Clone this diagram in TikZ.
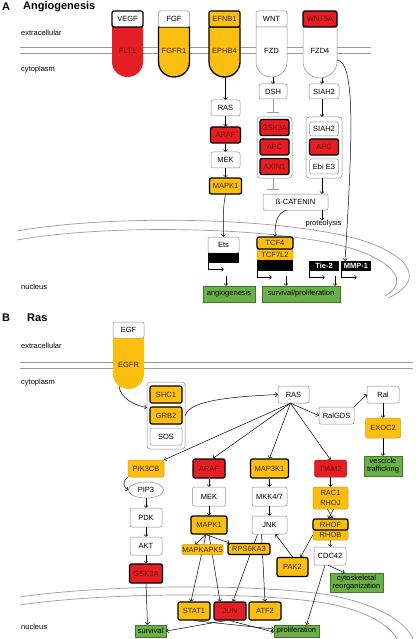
\documentclass[tikz,border=0pt]{standalone}
\usepackage{fontspec}
\setmainfont{Liberation Sans}
\usetikzlibrary{arrows.meta,shapes.geometric}
\definecolor{cred}{HTML}{E31E24}
\definecolor{credd}{HTML}{B0141A}
\definecolor{credt}{HTML}{6E0A0A}
\definecolor{cyel}{HTML}{FDBE12}
\definecolor{cyeld}{HTML}{C99A10}
\definecolor{cyelt}{HTML}{3D2C00}
\definecolor{cgrn}{HTML}{6AAF48}
\definecolor{cgrnd}{HTML}{3C7A26}
\definecolor{cmem}{HTML}{9B9B9B}
\definecolor{cbrd}{HTML}{8C8C8C}

\tikzset{
  gene/.style={rounded corners=2pt, inner sep=0.5pt, minimum width=30pt, minimum height=16pt,
    font=\fontsize{7.5}{8.5}\selectfont, align=center},
  wbox/.style={gene, draw=cbrd, fill=white, line width=0.5pt},
  ybox/.style={gene, draw=cyeld, fill=cyel, text=cyelt, line width=0.5pt},
  rbox/.style={gene, draw=credd, fill=cred, text=credt, line width=0.5pt},
  strong/.style={draw=black, line width=1.3pt},
  gbox/.style={gene, sharp corners, draw=cgrnd, fill=cgrn, text=black, line width=0.6pt,
    font=\fontsize{7.5}{8}\selectfont},
  kbox/.style={gene, sharp corners, fill=black, text=white, font=\fontsize{7.5}{8.5}\selectfont\bfseries},
  grp/.style={rounded corners=3pt, draw=cbrd, fill=white, line width=0.5pt, inner sep=0pt},
  lbl/.style={font=\fontsize{7.5}{8.5}\selectfont, anchor=west, inner sep=0pt},
  ttl/.style={font=\fontsize{11}{13}\selectfont\bfseries, anchor=west, inner sep=0pt},
  mem/.style={draw=cmem, line width=0.7pt},
  link/.style={-{To[length=2.5pt,width=4.5pt]}, line width=0.5pt},
  inhib/.style={-{Bar[width=12pt]}, draw=cmem, line width=0.8pt}
}

\begin{document}
\begin{tikzpicture}[x=1pt,y=-1pt]
\useasboundingbox (0,0) rectangle (415,639);

% A: Angiogenesis
\node[ttl] (tA) at (2,7) {A};
\node[ttl] (tAng) at (23,7) {Angiogenesis};
\node[lbl] (extA) at (21,33) {extracellular};
\node[lbl] (cytA) at (21,70) {cytoplasm};
\node[lbl] (nucA) at (21,287) {nucleus};
\draw[mem] (20,47.5) -- (371,47.5) (20,53) -- (371,53);
\draw[mem] (17,231) .. controls (120,213) and (300,218) .. (370,243)
  .. controls (420,262) and (418,285) .. (388,298);
\draw[mem] (17,240) .. controls (120,222) and (300,228) .. (362,252)
  .. controls (402,268) and (404,285) .. (385,296);

\fill[cred] (112,27) -- (112,62) .. controls (112,70.5) and (119,77) .. (127.5,77)
  .. controls (136,77) and (143,70.5) .. (143,62) -- (143,27) -- cycle;
\filldraw[fill=cyel, draw=black, line width=1.3pt] (158.5,27) -- (158.5,62) .. controls (158.5,70.5) and (165.5,77) .. (174,77)
  .. controls (182.5,77) and (189.5,70.5) .. (189.5,62) -- (189.5,27) -- cycle;
\filldraw[fill=cyel, draw=black, line width=1.3pt] (209,27) -- (209,62) .. controls (209,70.5) and (216,77) .. (224.5,77)
  .. controls (233,77) and (240,70.5) .. (240,62) -- (240,27) -- cycle;
\filldraw[fill=white, draw=cbrd, line width=0.5pt] (256,27) -- (256,62) .. controls (256,70.5) and (263,77) .. (271.5,77)
  .. controls (280,77) and (287,70.5) .. (287,62) -- (287,27) -- cycle;
\filldraw[fill=white, draw=cbrd, line width=0.5pt] (303,27) -- (303,62) .. controls (303,70.5) and (311,78) .. (320,78)
  .. controls (329,78) and (337,70.5) .. (337,62) -- (337,27) -- cycle;
\coordinate (ephbot) at (225.5,77);
\coordinate (fzdbot) at (273,77);
\coordinate (fzdfbot) at (322,78);
\coordinate (fzdfside) at (337,60);

\node[wbox, strong, minimum width=31pt] (vegf) at (127.5,19) {VEGF};
\node[wbox, minimum width=31pt] (fgf) at (174,19) {FGF};
\node[ybox, strong, minimum width=31pt] (efnb) at (224.5,19) {EFNB1};
\node[wbox, minimum width=31pt] (wnt) at (271.5,19) {WNT};
\node[rbox, strong, minimum width=34pt] (wntf) at (320,19) {WNT5A};
\node[gene, text=credt] (flt) at (127.5,51) {FLT1};
\node[gene, text=cyelt] (fgfr) at (174,51) {FGFR1};
\node[gene, text=cyelt] (ephb) at (224.5,51) {EPHB4};
\node[gene] (fzd) at (271.5,51) {FZD};
\node[gene] (fzdf) at (320,51) {FZD4};

\node[wbox, minimum width=29pt] (rasA) at (225.5,108) {RAS};
\node[rbox, strong] (arafA) at (225.5,135) {ARAF};
\node[wbox, minimum width=29pt] (mekA) at (225.5,160) {MEK};
\node[ybox, strong, minimum width=32pt] (mapkA) at (225.5,186) {MAPK1};
\draw[link] (ephbot) -- (ephbot |- rasA.north);
\draw[link] (rasA) -- (arafA);
\draw[link] (arafA) -- (mekA);
\draw[link] (mekA) -- (mapkA);

\node[wbox, minimum width=28pt, minimum height=15pt] (dsh) at (273,91.5) {DSH};
\draw[link] (fzdbot) -- (fzdbot |- dsh.north);
\node[grp, minimum width=35pt, minimum height=61pt] (grpA) at (274.5,147.5) {};
\node[rbox, strong, minimum width=29pt] (gskA) at (274.5,127.5) {GSK3A};
\node[rbox, strong, minimum width=29pt] (apcA) at (274.5,147) {APC};
\node[rbox, strong, minimum width=29pt] (axin) at (274.5,166.5) {AXIN1};
\draw[inhib] (dsh.south) -- ++(0,14);
\draw[inhib] ([xshift=-1.5pt]grpA.south) -- ++(0,12);

\node[wbox, minimum width=30pt, minimum height=15pt] (siah) at (324,91.5) {SIAH2};
\draw[link] (fzdfbot) -- (fzdfbot |- siah.north);
\node[grp, minimum width=36pt, minimum height=61pt] (grpB) at (324,147.5) {};
\node[wbox, minimum width=29pt, minimum height=14pt] (siahb) at (324,129) {SIAH2};
\node[rbox, strong, minimum width=29pt] (apcB) at (324,147) {APC};
\node[wbox, minimum width=29pt, minimum height=15pt] (ebi) at (324,166.5) {Ebi E3};
\draw[link] ([xshift=-2pt]siah.south) -- ([xshift=-2pt]grpB.north);
\node[wbox, minimum width=65pt] (bcat) at (295.5,202) {ß-CATENIN};
\draw[link] ([xshift=-2pt]grpB.south) -- ([xshift=-2pt]grpB.south |- bcat.north);
\node[lbl, anchor=center] (prot) at (323.5,224) {proteolysis};
\draw[link] ([xshift=26.5pt]bcat.south) -- ([xshift=-1.5pt]prot.north);

\node[wbox, minimum width=31pt] (ets) at (223.5,245) {Ets};
\node[kbox, minimum width=31pt, minimum height=10pt] (etsdna) at (223.5,258) {};
\draw[link] (mapkA.south) .. controls +(-3,15) and +(0,-18) .. (ets.north);
\draw[link] (etsdna.south west) -- ++(0,6) -- ++(16,0);

\node[ybox, minimum width=36pt, minimum height=11pt] (tcfl) at (275,254.5) {TCF7L2};
\node[ybox, strong, minimum width=36pt, minimum height=12pt] (tcf) at (275,243) {TCF4};
\node[kbox, minimum width=36pt, minimum height=11pt] (tcfdna) at (275,265.5) {};
\draw[link] ([xshift=-9pt]bcat.south) .. controls +(-10,3) and +(0,-13) .. (tcf.north);
\draw[link] (tcfdna.south west) -- ++(0,6) -- ++(15,0);

\node[kbox, minimum width=30pt, minimum height=10pt] (tie) at (324,266) {Tie-2};
\node[kbox, minimum width=30pt, minimum height=10pt] (mmp) at (356,266) {MMP-1};
\draw[link] (tie.south west) -- ++(0,6) -- ++(16,0);
\draw[link] (mmp.south west) -- ++(0,6) -- ++(16,0);
\draw[link] (fzdfside) .. controls +(18,2) and +(8,-128) .. ([xshift=-11pt]mmp.north);

\node[gbox, minimum width=52pt] (angio) at (229,294) {angiogenesis};
\node[gbox, minimum width=78pt] (survA) at (301,294) {survival/proliferation};
\draw[link] ([xshift=-3pt,yshift=10pt]angio.north) -- ([xshift=-3pt]angio.north);
\draw[link] ([xshift=-15pt,yshift=10pt]survA.north) -- ([xshift=-15pt]survA.north);
\draw[link] ([xshift=34pt,yshift=10pt]survA.north) -- ([xshift=34pt]survA.north);

% B: Ras
\node[ttl] (tB) at (2,318) {B};
\node[ttl] (tRas) at (27,318) {Ras};
\node[lbl] (extB) at (21,346) {extracellular};
\node[lbl] (cytB) at (21,383) {cytoplasm};
\node[lbl] (nucB) at (21,627) {nucleus};
\draw[mem] (20,362) -- (413,362) (20,368) -- (413,368);
\draw[mem] (20,597) .. controls (100,585) and (250,583) .. (330,595)
  .. controls (375,604) and (405,620) .. (413,639);
\draw[mem] (20,605) .. controls (100,593) and (250,591) .. (325,603)
  .. controls (365,610) and (390,625) .. (397,639);

\fill[cyel] (113,338) -- (113,374) .. controls (113,382.5) and (120,389) .. (128.5,389)
  .. controls (137,389) and (144,382.5) .. (144,374) -- (144,338) -- cycle;
\coordinate (egfrbot) at (119,386);
\node[wbox, minimum width=31pt] (egf) at (128.5,330) {EGF};
\node[gene, text=cyelt] (egfr) at (128.5,365) {EGFR};

\node[grp, minimum width=38pt, minimum height=67pt] (grpC) at (166,415.5) {};
\node[ybox, strong, minimum width=32pt, minimum height=17pt] (shc) at (166,394.5) {SHC1};
\node[ybox, strong, minimum width=32pt, minimum height=17pt] (grb) at (166,415.5) {GRB2};
\node[wbox, minimum width=32pt, minimum height=17pt] (sos) at (166,436.5) {SOS};
\draw[link] (egfrbot) .. controls +(1,12) and +(-12,-2) .. ([yshift=8pt]grpC.west);

\node[wbox, minimum width=31pt, minimum height=17pt] (rasB) at (293.5,394.5) {RAS};
\node[wbox, minimum width=35pt, minimum height=17pt] (ralgds) at (336.5,415.5) {RalGDS};
\node[wbox, minimum width=32pt, minimum height=17pt] (ral) at (383,394.5) {Ral};
\node[ybox, minimum width=35pt, minimum height=20pt] (exoc) at (383,428) {EXOC2};
\node[gbox, minimum width=38pt, minimum height=20pt] (vesc) at (383,466) {vescicle\\trafficking};
\draw[link] (grpC.east) .. controls +(4,-16) and +(-40,2) .. (rasB.west);
\draw[link] (ralgds.north east) -- (ral.west);
\draw[link] (ral) -- (exoc);
\draw[link] (exoc) -- (vesc);

\node[ybox, minimum width=36pt, minimum height=17pt] (pik) at (146,468.5) {PIK3CB};
\node[rbox, strong, minimum width=32pt, minimum height=19pt] (arafB) at (209,468.5) {ARAF};
\node[ybox, strong, minimum width=38pt, minimum height=19pt] (mapkkk) at (269.5,468.5) {MAP3K1};
\node[rbox, minimum width=32pt, minimum height=17pt] (tiam) at (330.5,468.5) {TIAM2};
\draw[link] ([xshift=-3pt]rasB.south) -- (pik.north east);
\draw[link] ([xshift=-3pt]rasB.south) -- ([xshift=4pt]arafB.north);
\draw[link] ([xshift=-3pt]rasB.south) -- (mapkkk.north);
\draw[link] ([xshift=-3pt]rasB.south) -- (tiam.north);
\draw[link] ([xshift=-3pt]rasB.south) -- (ralgds.west);

\node[wbox, ellipse, minimum width=35pt, minimum height=16pt] (pip) at (146,490) {PIP3};
\node[wbox, minimum width=32pt, minimum height=19pt] (pdk) at (146,517.5) {PDK};
\node[wbox, minimum width=32pt, minimum height=18pt] (akt) at (146,546) {AKT};
\node[rbox, strong, minimum width=33pt, minimum height=19pt] (gskB) at (146,573.5) {GSK3A};
\draw[link] (pik.south west) .. controls +(-6,5) and +(-5,-3) .. (pip.west);
\draw[link] (pip) -- (pdk);
\draw[link] (pdk) -- (akt);
\draw[link] (akt) -- (gskB);

\node[wbox, minimum width=33pt, minimum height=19pt] (mekB) at (209,496.5) {MEK};
\node[ybox, strong, minimum width=36pt, minimum height=18pt] (mapkB) at (209,525) {MAPK1};
\node[wbox, minimum width=35pt, minimum height=19pt] (mkk) at (269.5,496.5) {MKK4/7};
\node[wbox, minimum width=35pt, minimum height=18pt] (jnk) at (269.5,525) {JNK};
\draw[link] (arafB) -- (mekB);
\draw[link] (mekB) -- (mapkB);
\draw[link] (mapkkk) -- (mkk);
\draw[link] (mkk) -- (jnk);

\node[ybox, minimum width=35pt, minimum height=22pt, font=\fontsize{7.5}{10}\selectfont] (rac) at (330.5,498) {RAC1\\RHOJ};
\node[ybox, minimum width=35pt, minimum height=10pt] (rhob) at (330.5,535) {RHOB};
\node[ybox, strong, minimum width=35pt, minimum height=11pt] (rhof) at (330.5,524.5) {RHOF};
\node[wbox, minimum width=32pt, minimum height=18pt] (cdc) at (330,556) {CDC42};
\node[ybox, strong, minimum width=31pt, minimum height=19pt] (pak) at (292.5,567) {PAK2};
\node[gbox, minimum width=53pt, minimum height=19pt] (cyto) at (356.5,582.5) {cytoskeletal\\reorganization};
\draw[link] (tiam) -- (rac);
\draw[link] ([xshift=-3pt]rac.south) -- ([xshift=2pt]rhof.north);
\draw[link] ([xshift=3pt]rac.south) -- ([xshift=-2pt]rhof.north);
\draw[link] (rhob) -- (cdc);
\draw[link] (rhob.west) -- ([xshift=-8pt]pak.north east);
\draw[link] (pak.north) -- ([xshift=6pt]jnk.south);
\draw[link] ([xshift=-2pt]cdc.south) -- ([xshift=-12pt]cyto.north);

\node[ybox, strong, minimum width=32pt, minimum height=18pt] (stat) at (194,611) {STAT1};
\node[rbox, strong, minimum width=32pt, minimum height=18pt] (jun) at (230,611) {JUN};
\node[ybox, strong, minimum width=32pt, minimum height=18pt] (atf) at (265,611) {ATF2};
\node[gbox, minimum width=31pt, minimum height=12pt] (surv) at (150.5,631) {survival};
\node[gbox, minimum width=45pt, minimum height=12pt] (prolif) at (296.5,631) {proliferation};
\draw[link] ([xshift=-3pt]mapkB.south) -- ([xshift=-3pt]stat.north);
\draw[link] (mapkB.south) -- ([xshift=-10pt]jun.north);
\draw[link] ([xshift=-12pt]jnk.south) -- ([xshift=3pt]jun.north);
\draw[link] ([xshift=-8pt]jnk.south) -- (atf.north);
\node[ybox, minimum width=41pt, minimum height=10pt] (mapkapk) at (202.5,549.5) {MAPKAPK5};
\node[ybox, strong, minimum width=42pt, minimum height=11pt] (rps) at (249,549) {RPS6KA3};
\draw[link] ([xshift=-3pt]mapkB.south) -- ([xshift=-7pt]mapkapk.north);
\draw[link] ([xshift=-3pt]mapkB.south) -- ([xshift=2pt]rps.north west);
\draw[link] (gskB.south) -- ([xshift=-3pt]surv.north);
\draw[link] ([xshift=-5pt]cdc.south) -- ([xshift=10pt]prolif.north);
\draw[link] ([xshift=-5pt]jun.south) -- (surv.east);
\draw[link] (stat.south) -- ([yshift=2pt]prolif.west);
\draw[link] (jun.south) -- ([yshift=-1pt]prolif.west);
\end{tikzpicture}
\end{document}
